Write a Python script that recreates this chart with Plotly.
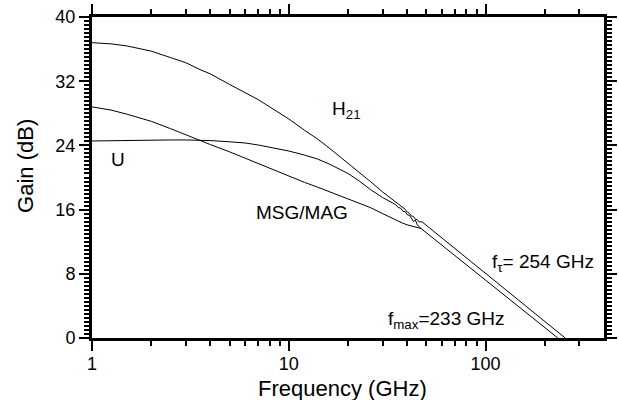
import math
import plotly.graph_objects as go

# ---- data ----
freq_h21 = [1, 1.25, 1.5, 1.75, 2, 2.5, 3, 3.5, 4, 5, 6, 7, 8, 9, 10, 12, 14, 16, 18, 20,
            23, 26, 30, 33, 35, 36, 37, 38, 39, 40, 41, 42, 43, 44, 45, 46, 47, 48]
gain_h21 = [36.8, 36.65, 36.4, 36.1, 35.75, 34.95, 34.3, 33.5, 32.9, 31.6, 30.6, 29.7, 28.8, 28.0,
            27.3, 25.9, 24.8, 23.7, 22.7, 21.7, 20.6, 19.5, 18.2, 17.4, 17.0, 16.75, 16.45, 16.2,
            16.05, 15.7, 15.55, 15.2, 15.15, 14.8, 14.75, 14.45, 14.5, 14.4]

freq_u = [1, 1.25, 1.5, 1.75, 2, 2.5, 3, 3.5, 4, 5, 6, 7, 8, 9, 10, 12, 14, 16, 18, 20,
          23, 26, 30, 33, 35, 36, 37, 38, 39, 40, 41, 42, 43, 44, 45, 46, 47]
gain_u = [24.55, 24.6, 24.6, 24.62, 24.65, 24.68, 24.68, 24.65, 24.6, 24.45, 24.3, 24.05, 23.8,
          23.55, 23.3, 22.8, 22.3, 21.7, 21.1, 20.5, 19.5, 18.5, 17.5, 16.9, 16.6, 16.25, 16.2,
          15.8, 15.75, 15.35, 15.3, 14.95, 14.5, 14.7, 14.1, 13.9, 13.65]

freq_msg = [1, 1.25, 1.5, 1.75, 2, 2.5, 3, 3.5, 4, 5, 6, 7, 8, 9, 10, 12, 14, 16, 18, 20,
            23, 26, 30, 33, 36, 38, 40, 42, 44, 46, 47]
gain_msg = [28.8, 28.4, 27.9, 27.45, 27.0, 26.1, 25.3, 24.65, 24.1, 23.2, 22.4, 21.75, 21.15,
            20.65, 20.15, 19.4, 18.8, 18.25, 17.8, 17.35, 16.8, 16.25, 15.5, 15.0, 14.6, 14.3,
            14.1, 13.95, 13.8, 13.7, 13.65]

# extrapolated -20 dB/dec lines to the unity-gain frequencies
ft_freq = [48, 254]
ft_gain = [14.4, 0]
fmax_freq = [47, 233]
fmax_gain = [13.65, 0]

x_tickvals = [1, 10, 100]
x_ticktext = ["1", "10", "100"]
x_minor = [2, 3, 4, 5, 6, 7, 8, 9, 20, 30, 40, 50, 60, 70, 80, 90, 200, 300]
y_tickvals = [0, 8, 16, 24, 32, 40]

FONT = "Arial, Liberation Sans, sans-serif"
line_style = dict(color="black", width=1)

fig = go.Figure()
for xs, ys, name in [(freq_h21, gain_h21, "H21"), (freq_u, gain_u, "U"),
                     (freq_msg, gain_msg, "MSG/MAG"), (ft_freq, ft_gain, "fT line"),
                     (fmax_freq, fmax_gain, "fmax line")]:
    fig.add_trace(go.Scatter(x=xs, y=ys, mode="lines", line=line_style, name=name,
                             showlegend=False, hoverinfo="skip"))

tick_common = dict(ticks="outside", ticklen=10, tickwidth=2, tickcolor="black",
                   showline=True, linewidth=3, linecolor="black", mirror="ticks",
                   showgrid=False, zeroline=False, automargin=False,
                   tickfont=dict(family=FONT, size=18, color="black"))

fig.update_xaxes(type="log", range=[0, math.log10(400)], tickmode="array",
                 tickvals=x_tickvals, ticktext=x_ticktext, ticklabelstandoff=-3,
                 minor=dict(tickmode="array", tickvals=x_minor, ticks="outside", ticklen=5,
                            tickwidth=2, tickcolor="black", showgrid=False),
                 **tick_common)
fig.update_yaxes(range=[0, 40], tickmode="array", tickvals=y_tickvals,
                 minor=dict(dtick=0.5, tick0=0, ticks="outside", ticklen=5, tickwidth=2,
                            tickcolor="black", showgrid=False),
                 **tick_common)

ann_font = dict(family=FONT, size=19, color="black")
annotations = [
    dict(text="Frequency (GHz)", xref="paper", yref="paper", x=0.489, y=-0.158,
         xanchor="center", yanchor="middle", showarrow=False,
         font=dict(family=FONT, size=22, color="black")),
    dict(text="Gain (dB)", xref="paper", yref="paper", x=-0.129, y=0.536, textangle=-90,
         xanchor="center", yanchor="middle", showarrow=False,
         font=dict(family=FONT, size=22, color="black")),
    dict(text="H<sub>21</sub>", x=math.log10(16.2), y=28.4, xanchor="left", yanchor="middle",
         showarrow=False, font=ann_font),
    dict(text="U", x=math.log10(1.348), y=22.3, xanchor="center", yanchor="middle",
         showarrow=False, font=ann_font),
    dict(text="MSG/MAG", x=math.log10(11.67), y=15.7, xanchor="center", yanchor="middle",
         showarrow=False, font=ann_font),
    dict(text="f<sub>τ</sub>= 254 GHz", x=math.log10(105.3), y=9.3, xanchor="left",
         yanchor="middle", showarrow=False, font=ann_font),
    dict(text="f<sub>max</sub>=233 GHz", x=math.log10(31.2), y=2.3, xanchor="left",
         yanchor="middle", showarrow=False, font=ann_font),
]

fig.update_layout(width=619, height=400, margin=dict(l=92, r=15, t=17, b=62),
                  autosize=False, hovermode=False,
                  plot_bgcolor="white", paper_bgcolor="white",
                  font=dict(family=FONT, color="black"), annotations=annotations,
                  showlegend=False)

fig.write_html("out.html", config={"displayModeBar": False, "staticPlot": True},
               post_script="document.body.style.margin='0';document.body.style.overflow='hidden';")
